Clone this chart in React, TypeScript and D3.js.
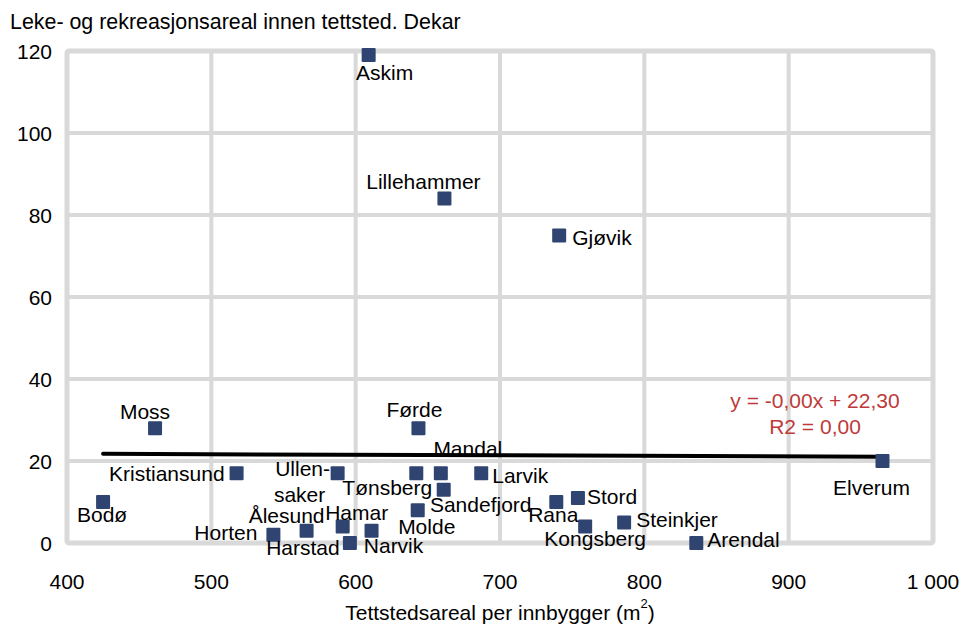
import React from 'react';
import * as d3 from 'd3';

const names = ['Askim','Lillehammer','Gjøvik','Moss','Førde','Elverum','Kristiansund','Ullensaker','Tønsberg','Mandal','Larvik','Sandefjord','Molde','Hamar','Narvik','Harstad','Ålesund','Horten','Bodø','Rana','Stord','Kongsberg','Steinkjer','Arendal'];
const xValues = [609, 661.5, 741, 461, 643.5, 965, 517.5, 587.5, 642, 659, 687, 661, 643, 591, 611, 596, 566, 543, 425, 739, 754, 759, 786, 836];
const yValues = [119, 84, 75, 28, 28, 20, 17, 17, 17, 17, 17, 13, 8, 4, 3, 0, 3, 2, 10, 10, 11, 4, 5, 0];
const xTicks = [400, 500, 600, 700, 800, 900, 1000];
const yTicks = [0, 20, 40, 60, 80, 100, 120];
const trendSlope = -0.0013;
const trendIntercept = 22.3;
const yTitle = 'Leke- og rekreasjonsareal innen tettsted. Dekar';
const xTitle = 'Tettstedsareal per innbygger (m';
const eqLines = ['y = -0,00x + 22,30', 'R2 = 0,00'];

// label placement (anchor, dx, dy) relative to marker centre, in px
const labelAnchor = ['middle','middle','start','middle','middle','middle','end','middle','middle','middle','start','middle','middle','middle','middle','middle','middle','end','middle','middle','start','middle','start','start'];
const labelDx = [16, -21, 13, -10, -4, -11, -12, -35, -29, 27, 11, 37, 9, 14, 22, -47, -20, -16, -1, -3, 9, 10, 12, 11];
const labelDy = [17, -17, 2, -17, -19, 26, 0, -5, 14, -25, 2, 15, 16, -14, 15, 4, -15, -2, 12, 12, -1, 12, -3, -4];

const fmt = (v: number) => d3.format(',')(v).replace(/,/g, ' ');

const FS = 21;

function T(props: { x: number; y: number; anchor?: string; fill?: string; fs?: number; children: React.ReactNode }) {
  const { x, y, anchor = 'start', fill = '#000', fs = FS, children } = props;
  return (
    <text x={x} y={y} fontSize={fs} textAnchor={anchor as any} dominantBaseline="central" fill={fill}>
      {children}
    </text>
  );
}

export default function App() {
  const W = 961, H = 625;
  const x = d3.scaleLinear().domain([400, 1000]).range([67, 933]);
  const y = d3.scaleLinear().domain([0, 120]).range([543, 51]);
  const font = '"Liberation Sans", Arial, sans-serif';
  const grid = '#d9d9d9';
  const xMin = d3.min(xValues) as number;
  const xMax = d3.max(xValues) as number;
  const line = d3.line<number>().x(d => x(d)).y(d => y(trendIntercept + trendSlope * d));
  return (
    <svg width={W} height={H} style={{ position: 'absolute', left: 0, top: 0, background: '#fff' }} fontFamily={font}>
      <rect x={0} y={0} width={W} height={H} fill="#fff" />
      <T x={10} y={22} fs={21.4}>{yTitle}</T>
      {xTicks.slice(1, -1).map(t => (
        <line key={'gx' + t} x1={x(t)} x2={x(t)} y1={y(120)} y2={y(0)} stroke={grid} strokeWidth={4} />
      ))}
      {yTicks.slice(1, -1).map(t => (
        <line key={'gy' + t} x1={x(400)} x2={x(1000)} y1={y(t)} y2={y(t)} stroke={grid} strokeWidth={4} />
      ))}
      <rect x={x(400)} y={y(120)} width={x(1000) - x(400)} height={y(0) - y(120)} fill="none" stroke={grid} strokeWidth={5} rx={2} />
      {yTicks.map(t => (
        <T key={'ty' + t} x={52} y={y(t)} anchor="end">{t}</T>
      ))}
      {xTicks.map(t => (
        <T key={'tx' + t} x={x(t)} y={581} anchor="middle">{fmt(t)}</T>
      ))}
      <T x={500} y={612} anchor="middle">
        {xTitle}<tspan fontSize={13} dy={-9}>2</tspan><tspan dy={9}>)</tspan>
      </T>
      <path d={line([xMin, xMax]) || ''} fill="none" stroke="#000" strokeWidth={4} strokeLinecap="round" />
      {xValues.map((v, i) => (
        <rect key={'p' + i} x={x(v) - 7} y={y(yValues[i]) - 7} width={14} height={14} fill="#2f4470" rx={1} />
      ))}
      {names.map((n, i) => {
        const px = x(xValues[i]) + labelDx[i];
        const py = y(yValues[i]) + labelDy[i];
        if (n === 'Ullensaker') {
          return (
            <g key={'l' + i}>
              <T x={px} y={py} anchor="middle">Ullen-</T>
              <T x={px - 3} y={py + 26} anchor="middle">saker</T>
            </g>
          );
        }
        return (
          <T key={'l' + i} x={px} y={py} anchor={labelAnchor[i]}>{n}</T>
        );
      })}
      {eqLines.map((s, i) => (
        <T key={'eq' + i} x={815} y={400 + i * 26} anchor="middle" fill="#be3a3a">{s}</T>
      ))}
    </svg>
  );
}
